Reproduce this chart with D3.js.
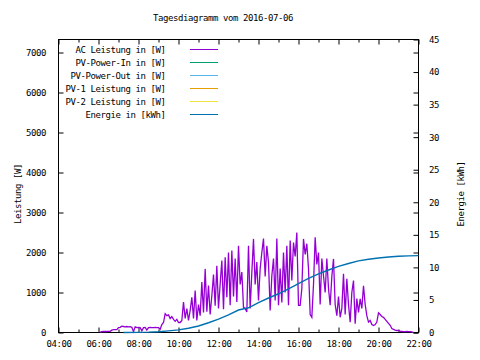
<!DOCTYPE html>
<html>
<head>
<meta charset="utf-8">
<script src="https://cdn.jsdelivr.net/npm/d3@7"></script>
<style>
  html, body { margin: 0; padding: 0; background: #fff; }
  svg text { font-family: "DejaVu Sans Mono", "Liberation Mono", monospace; font-size: 9px; letter-spacing: -0.42px; fill: #000; }
</style>
</head>
<body>
<svg id="chart" width="480" height="360"></svg>
<script>
// ---------- data ----------
const chartTitle = "Tagesdiagramm vom 2016-07-06";
const leftAxisLabel = "Leistung [W]";
const rightAxisLabel = "Energie [kWh]";

const seriesNames = ["AC Leistung in [W]", "PV-Power-In in [W]", "PV-Power-Out in [W]",
                     "PV-1 Leistung in [W]", "PV-2 Leistung in [W]", "Energie in [kWh]"];
const seriesColors = ["#9400d3", "#009e73", "#56b4e9", "#e69f00", "#f0e442", "#0072b2"];

const xTickLabels = ["04:00","06:00","08:00","10:00","12:00","14:00","16:00","18:00","20:00","22:00"];
const xMinorTickLabels = ["05:00","07:00","09:00","11:00","13:00","15:00","17:00","19:00","21:00"];
const yTicks = [0,1000,2000,3000,4000,5000,6000,7000];
const y2Ticks = [0,5,10,15,20,25,30,35,40,45];

// AC power samples, 5-minute interval starting 06:05
const acStart = "06:05";
const acStepMinutes = 5;
const acPower = [
  // 06:05-07:00
  10,20,25,25,25,30,30,60,70,70,70,120,
  // 07:05-08:00
  130,160,150,140,150,140,145,130,20,140,120,125,
  // 08:05-09:00
  120,40,120,125,60,120,125,120,120,125,120,120,
  // 09:05-10:00
  80,200,250,470,420,440,350,400,330,280,330,250,
  // 10:05-11:00
  250,300,760,350,600,300,550,880,350,1050,300,700,
  // 11:05-12:00
  420,1260,500,1590,520,1175,450,920,1450,670,1670,600,
  // 12:05-13:00
  1220,1800,580,1880,880,2000,680,2050,900,1850,760,2170,
  // 13:05-14:00
  1200,1510,630,600,510,2170,600,1500,2340,1200,1760,800,
  // 14:05-15:00
  1600,2000,2350,1400,2170,1750,550,1420,1850,800,2350,680,
  // 15:05-16:00
  1600,750,2000,1000,2170,680,2300,1300,2250,1900,2500,680,
  // 16:05-17:00
  680,1100,2340,1950,2220,1600,450,380,1200,2380,1700,2000,
  // 17:05-18:00
  700,1850,1420,1000,1850,1100,680,1400,1840,700,420,900,
  // 18:05-19:00
  380,600,1470,450,1340,700,260,1000,1300,220,850,500,
  // 19:05-20:00
  840,600,1170,700,420,260,300,200,175,200,260,490,
  // 20:05-21:00
  450,400,380,330,280,230,180,100,80,60,50,50,
  // 21:05-21:45
  30,25,20,20,25,20,20,15,0
];

const energyTimes = ["07:15","08:00","08:30","09:00","09:30","10:00","10:30","11:00","11:30","12:00",
                     "12:30","13:00","13:30","14:00","14:30","15:00","15:30","16:00","16:30","17:00",
                     "17:30","18:00","18:30","19:00","19:30","20:00","20:30","21:00","21:30","22:00"];
const energyValues = [0,0.02,0.05,0.12,0.25,0.4,0.65,1.0,1.5,2.05,
                      2.7,3.45,3.8,4.6,5.3,5.95,6.7,7.5,8.3,9.0,
                      9.6,10.15,10.6,11.0,11.25,11.45,11.6,11.7,11.77,11.8];

// ---------- helpers ----------
const toMin = s => { const [h, m] = s.split(":").map(Number); return h * 60 + m; };
const fmt = m => String(Math.floor(m / 60)).padStart(2, "0") + ":" + String(m % 60).padStart(2, "0");

// ---------- layout ----------
const plot = { left: 58.5, right: 418.5, top: 39.5, bottom: 332.5 };
const svg = d3.select("#chart");

const x = d3.scaleLinear().domain([toMin("04:00"), toMin("22:00")]).range([plot.left, plot.right]);
const y = d3.scaleLinear().domain([0, 7325]).range([plot.bottom, plot.top]);
const y2 = d3.scaleLinear().domain([0, 45]).range([plot.bottom, plot.top]);

// title
svg.append("text").attr("x", 153).attr("y", 21).text(chartTitle);

// axes
function styleAxis(g) {
  g.select(".domain").remove();
  g.selectAll(".tick line").attr("stroke", "#000").attr("stroke-width", 1);
  g.selectAll("text").attr("font-family", null).attr("font-size", null).attr("fill", "#000");
}

svg.append("g").attr("transform", `translate(0,${plot.bottom})`)
  .call(d3.axisBottom(x).tickValues(xTickLabels.map(toMin)).tickFormat(fmt).tickSize(-5).tickPadding(8))
  .call(styleAxis);
svg.append("g").attr("transform", `translate(0,${plot.bottom})`)
  .call(d3.axisBottom(x).tickValues(xMinorTickLabels.map(toMin)).tickFormat("").tickSize(-3))
  .call(styleAxis);
svg.append("g").attr("transform", `translate(0,${plot.top})`)
  .call(d3.axisTop(x).tickValues(xTickLabels.map(toMin)).tickFormat("").tickSize(-5))
  .call(styleAxis);
svg.append("g").attr("transform", `translate(0,${plot.top})`)
  .call(d3.axisTop(x).tickValues(xMinorTickLabels.map(toMin)).tickFormat("").tickSize(-3))
  .call(styleAxis);

svg.append("g").attr("transform", `translate(${plot.left},0)`)
  .call(d3.axisLeft(y).tickValues(yTicks).tickFormat(d3.format("d")).tickSize(-5).tickPadding(12.5))
  .call(styleAxis);
svg.append("g").attr("transform", `translate(${plot.right},0)`)
  .call(d3.axisRight(y).tickValues(yTicks).tickFormat("").tickSize(-5))
  .call(styleAxis);
svg.append("g").attr("transform", `translate(${plot.right},0)`)
  .call(d3.axisRight(y2).tickValues(y2Ticks).tickFormat(d3.format("d")).tickSize(-5).tickPadding(10.5))
  .call(styleAxis);

// axis labels
svg.append("text").attr("transform", "translate(20.5,194) rotate(-90)")
  .attr("text-anchor", "middle").text(leftAxisLabel);
svg.append("text").attr("transform", "translate(463.5,194) rotate(-90)")
  .attr("text-anchor", "middle").text(rightAxisLabel);

// border
svg.append("rect").attr("x", plot.left).attr("y", plot.top)
  .attr("width", plot.right - plot.left).attr("height", plot.bottom - plot.top)
  .attr("fill", "none").attr("stroke", "#000").attr("stroke-width", 1);

// lines
const acStartMin = toMin(acStart);
const acData = acPower.map((v, i) => ({ t: acStartMin + i * acStepMinutes, v }));
const energyData = energyTimes.map((t, i) => ({ t: toMin(t), v: energyValues[i] }));

svg.append("path").datum(acData)
  .attr("fill", "none").attr("stroke", seriesColors[0]).attr("stroke-width", 1.3)
  .attr("stroke-linejoin", "miter")
  .attr("d", d3.line().x(d => x(d.t)).y(d => y(d.v)));

svg.append("path").datum(energyData)
  .attr("fill", "none").attr("stroke", seriesColors[5]).attr("stroke-width", 1.4)
  .attr("d", d3.line().x(d => x(d.t)).y(d => y2(d.v)));

// legend
const legend = svg.append("g");
seriesNames.forEach((name, i) => {
  const ly = Math.round(49 + i * 13.05) + 0.5;
  legend.append("text").attr("x", 165.5).attr("y", ly + 3).attr("text-anchor", "end").text(name);
  legend.append("line").attr("x1", 190).attr("x2", 218).attr("y1", ly).attr("y2", ly)
    .attr("stroke", seriesColors[i]).attr("stroke-width", 1);
});
</script>
</body>
</html>
